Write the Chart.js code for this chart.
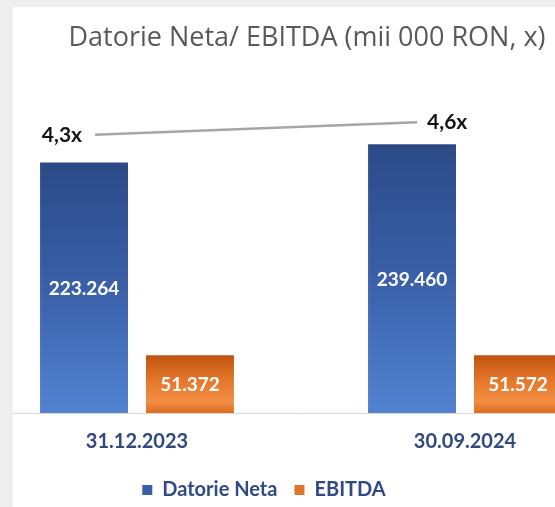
<!DOCTYPE html>
<html>
<head>
<meta charset="utf-8">
<script src="https://cdn.jsdelivr.net/npm/chart.js@4.4.1/dist/chart.umd.min.js"></script>
<style>
  html, body { margin: 0; padding: 0; }
  body { width: 555px; height: 507px; background: #eeeeee; position: relative; overflow: hidden; }
  #frame { position: absolute; left: 13px; top: 7px; width: 542px; height: 500px; background: #ffffff; overflow: hidden; }
  #holder { position: absolute; left: -40px; top: 0; width: 656px; height: 503px; }
</style>
</head>
<body>
<div id="frame"><div id="holder"><canvas id="c"></canvas></div></div>
<script>
// ---- data ----
const categories = ['31.12.2023', '30.09.2024'];
const seriesNames = ['Datorie Neta', 'EBITDA'];
const netDebt = [223264, 239460];   // mii RON
const ebitda = [51372, 51572];      // mii RON
const ratio = [4.3, 4.6];           // Datorie Neta / EBITDA (x)
const chartTitle = 'Datorie Neta/ EBITDA (mii 000 RON, x)';

// ---- helpers ----
const FONT = 'Lato, "Open Sans", sans-serif';
const TITLE_FONT = '"Open Sans", Lato, sans-serif';
function fmtThousands(v) { return String(v).replace(/\B(?=(\d{3})+(?!\d))/g, '.'); }
function fmtRatio(v) { return v.toFixed(1).replace('.', ',') + 'x'; }

function barGradient(stops, fallback) {
  return function (context) {
    const chart = context.chart;
    const ca = chart.chartArea;
    if (!ca || context.type !== 'data') return fallback;
    const top = chart.scales.y.getPixelForValue(context.raw);
    const g = chart.ctx.createLinearGradient(0, top, 0, ca.bottom);
    stops.forEach(s => g.addColorStop(s[0], s[1]));
    return g;
  };
}
const blueFill = barGradient([[0, '#2C4A87'], [0.5, '#3A60A9'], [1, '#5283D0']], '#3C62AC');
const orangeFill = barGradient([[0, '#C0540F'], [0.45, '#E6782C'], [0.8, '#F18D42'], [1, '#DC6D22']], '#E07327');

// nudge title / legend horizontally (the reference is cropped asymmetrically)
const TITLE_DX = 6;
const LEGEND_DX = -37;
const nudgeBoxes = {
  id: 'nudgeBoxes',
  afterLayout(chart) {
    const t = chart.titleBlock;
    if (t) { t.left += TITLE_DX; t.right += TITLE_DX; }
    const l = chart.legend;
    if (l) { l.left += LEGEND_DX; l.right += LEGEND_DX; }
  }
};

const valueLabels = {
  id: 'valueLabels',
  afterDatasetsDraw(chart) {
    const ctx = chart.ctx;
    chart.data.datasets.forEach((ds, di) => {
      const meta = chart.getDatasetMeta(di);
      if (meta.hidden) return;
      meta.data.forEach((el, i) => {
        ctx.save();
        if (meta.type === 'bar') {
          const p = el.getProps(['x', 'y', 'base'], true);
          ctx.font = 'bold 19px ' + FONT;
          ctx.fillStyle = '#ffffff';
          ctx.textAlign = 'center';
          ctx.textBaseline = 'middle';
          ctx.fillText(fmtThousands(ds.data[i]), p.x, (p.y + p.base) / 2 + 1);
        } else {
          const p = el.getProps(['x', 'y'], true);
          const first = i === 0;
          ctx.font = 'bold 21px ' + FONT;
          ctx.fillStyle = '#141414';
          ctx.textAlign = first ? 'right' : 'left';
          ctx.textBaseline = 'middle';
          ctx.fillText(fmtRatio(ratio[i]), first ? p.x - 13 : p.x + 10, p.y);
        }
        ctx.restore();
      });
    });
  }
};

new Chart(document.getElementById('c'), {
  type: 'bar',
  data: {
    labels: categories,
    datasets: [
      {
        type: 'line',
        label: 'Datorie Neta / EBITDA',
        data: ratio.map((v, i) => ({ x: i, y: v })),
        xAxisID: 'x2',
        yAxisID: 'y2',
        borderColor: '#A6A6A6',
        borderWidth: 2.5,
        pointRadius: 0,
        fill: false,
        tension: 0,
        order: 1
      },
      {
        label: seriesNames[0],
        data: netDebt,
        backgroundColor: blueFill,
        legendColor: '#3A5FA8',
        borderWidth: 0,
        categoryPercentage: 1.292,
        barPercentage: 0.83,
        order: 2
      },
      {
        label: seriesNames[1],
        data: ebitda,
        backgroundColor: orangeFill,
        legendColor: '#E0752A',
        borderWidth: 0,
        categoryPercentage: 1.292,
        barPercentage: 0.83,
        order: 2
      }
    ]
  },
  options: {
    responsive: true,
    maintainAspectRatio: false,
    animation: false,
    layout: { padding: 0 },
    scales: {
      x: {
        type: 'category',
        offset: true,
        grid: { display: false, drawTicks: false },
        border: { display: true, color: '#D9D9D9', width: 1 },
        ticks: {
          padding: 17,
          color: '#31497E',
          font: { family: FONT, size: 20, weight: 'bold' }
        },
        afterFit(scale) { scale.height = 50; }
      },
      x2: {
        type: 'linear',
        display: false,
        offset: false,
        min: -0.379,
        max: 1.658
      },
      y: {
        display: false,
        min: 0,
        max: 300000
      },
      y2: {
        display: false,
        position: 'right',
        min: -2.33,
        max: 5.69
      }
    },
    plugins: {
      title: {
        display: true,
        text: chartTitle,
        color: '#595959',
        font: { family: TITLE_FONT, size: 27, weight: 'normal' },
        padding: { top: 15, bottom: 22 }
      },
      legend: {
        display: true,
        position: 'bottom',
        align: 'center',
        labels: {
          boxWidth: 10,
          boxHeight: 10,
          padding: 17,
          color: '#2F4A84',
          font: { family: FONT, size: 20, weight: 'bold' },
          generateLabels(chart) {
            return chart.data.datasets
              .map((ds, i) => ({ ds, i }))
              .filter(o => o.ds.type !== 'line')
              .map(({ ds, i }) => ({
                text: ds.label,
                fillStyle: ds.legendColor,
                strokeStyle: ds.legendColor,
                lineWidth: 0,
                hidden: !chart.isDatasetVisible(i),
                datasetIndex: i,
                fontColor: '#2F4A84'
              }));
          }
        }
      },
      tooltip: { enabled: false }
    }
  },
  plugins: [nudgeBoxes, valueLabels]
});
</script>
</body>
</html>
